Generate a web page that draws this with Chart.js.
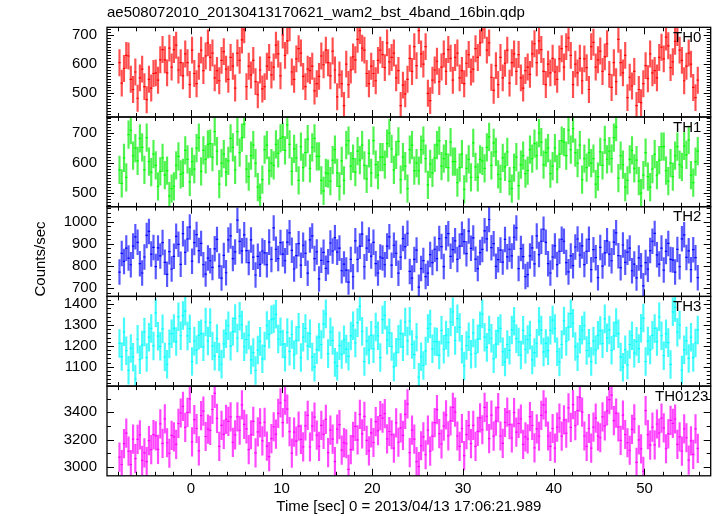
<!DOCTYPE html>
<html><head><meta charset="utf-8">
<script src="https://cdn.jsdelivr.net/npm/chart.js@4.4.1/dist/chart.umd.min.js"></script>
<style>html,body{margin:0;padding:0;background:#fff;}#wrap{width:717px;height:516px;position:relative;}</style>
</head><body><div id="wrap"><canvas id="c" width="717" height="516"></canvas></div>
<script>
const TITLE = "ae508072010_20130413170621_wam2_bst_4band_16bin.qdp";
const X_LABEL = "Time [sec] 0 = 2013/04/13 17:06:21.989";
const Y_LABEL = "Counts/sec";
const PANEL_NAMES = ["TH0", "TH1", "TH2", "TH3", "TH0123"];
const T_START = -7.875, BIN = 0.25;
const X_TICKS = [0, 10, 20, 30, 40, 50];
const Y_TICKS = [[500, 600, 700], [500, 600, 700], [700, 800, 900, 1000], [1100, 1200, 1300, 1400], [3000, 3200, 3400]];
const ERRORS = [45, 46, 56, 67, 105];

const TH0 = [
605,535,585,630, 628,548,513,573, 483,553,583,523, 478,548,518,568,
570,545,615,650, 615,570,655,590, 650,665,580,605, 560,635,605,530,
648,568,533,593, 648,578,628,673, 623,638,553,578, 543,613,643,583,
548,623,593,518, 638,613,683,718, 523,593,563,613, 540,495,580,515,
523,593,623,563, 590,665,635,560, 700,630,680,725, 573,548,618,653,
638,558,523,583, 578,593,508,533, 558,628,598,648, 605,560,645,580,
488,563,533,458, 600,530,580,625, 615,685,715,655, 648,568,533,593,
568,543,613,648, 633,588,673,608, 623,638,553,578, 458,528,498,548,
620,575,660,595, 715,635,600,660, 500,475,545,580, 610,540,590,635,
575,650,620,545, 623,638,553,578, 533,603,633,573, 583,653,623,673,
718,733,648,673, 555,510,595,530, 623,553,603,648, 535,605,635,575,
633,553,518,578, 590,565,635,670, 605,680,650,575, 530,600,570,620,
573,548,618,653, 590,660,690,630, 530,600,570,620, 543,618,588,513,
660,675,590,615, 645,575,625,670, 565,520,605,540, 685,605,570,630,
485,555,525,575, 458,513,468,533, 595,550,635,570, 578,553,623,658,
618,693,663,588, 608,678,708,648, 613,543,593,638, 600,520,485,545];
const TH1 = [
578,533,618,553, 695,710,625,650, 608,683,653,578, 685,605,570,630,
593,523,573,618, 560,575,490,515, 523,593,623,563, 568,643,613,538,
605,580,650,685, 573,643,613,663, 665,620,705,640, 530,600,630,570,
608,683,653,578, 705,635,685,730, 580,555,625,660, 600,520,485,545,
645,660,575,600, 593,663,633,683, 688,643,728,663, 573,648,618,543,
655,585,635,680, 583,653,683,623, 623,543,508,568, 565,540,610,645,
568,523,608,543, 660,675,590,615, 570,640,610,660, 593,548,633,568,
675,595,560,620, 620,595,665,700, 648,578,628,673, 545,620,590,515,
645,660,575,600, 575,645,675,615, 528,598,568,618, 660,675,590,615,
630,585,670,605, 605,535,585,630, 513,583,613,553, 668,588,553,613,
608,583,653,688, 593,668,638,563, 548,618,588,638, 540,515,585,620,
525,595,625,565, 575,645,615,665, 625,700,670,595, 635,650,565,590,
650,580,630,675, 670,625,710,645, 715,635,600,660, 545,615,585,635,
600,615,530,555, 638,593,678,613, 640,615,685,720, 550,625,595,520,
543,613,643,583, 610,540,500,560, 635,555,520,580, 630,560,610,655,
655,575,540,600, 555,625,655,595, 588,658,628,678, 560,535,605,640];
const TH2 = [
773,857,821,881, 836,806,890,932, 907,811,769,841, 938,956,854,884,
798,882,846,906, 817,763,865,787, 844,934,898,808, 946,862,922,976,
822,906,942,870, 902,806,764,836, 824,794,878,920, 800,746,848,770,
918,936,834,864, 1007,911,869,941, 870,816,918,840, 760,844,808,868,
860,806,908,830, 972,876,834,906, 854,824,908,950, 871,787,847,901,
804,894,858,768, 918,936,834,864, 742,826,862,790, 820,904,868,928,
863,881,779,809, 782,728,830,752, 914,830,890,944, 797,881,917,845,
907,811,769,841, 836,806,890,932, 804,894,858,768, 840,924,888,948,
776,746,830,872, 705,789,825,753, 768,852,816,876, 834,924,888,798,
928,946,844,874, 914,830,890,944, 910,856,958,880, 927,831,789,861,
875,959,923,1010, 883,901,799,829, 872,818,920,842, 876,846,930,972,
789,879,843,753, 762,846,882,810, 936,852,912,966, 907,811,769,841,
891,807,867,921, 912,816,774,846, 802,886,922,850, 891,807,867,921,
784,874,838,748, 884,800,860,914, 854,824,908,950, 847,793,895,817,
863,881,779,809, 747,837,801,711, 816,786,870,912, 947,851,809,881,
782,866,902,830, 827,773,875,797, 923,941,839,869, 784,874,838,748];
const TH3 = [
1212,1149,1268,1177, 1083,1188,1146,1041, 1232,1134,1204,1267, 1144,1242,1284,1200,
1359,1247,1198,1282, 1147,1112,1210,1259, 1284,1221,1340,1249, 1346,1367,1248,1283,
1125,1223,1181,1251, 1259,1196,1315,1224, 1312,1200,1151,1235, 1147,1112,1210,1259,
1297,1199,1269,1332, 1238,1343,1301,1196, 1231,1252,1133,1168, 1082,1180,1222,1138,
1200,1298,1256,1326, 1331,1352,1233,1268, 1209,1146,1265,1174, 1255,1157,1227,1290,
1144,1242,1284,1200, 1259,1147,1098,1182, 1242,1207,1305,1354, 1163,1268,1226,1121,
1103,1201,1159,1229, 1185,1150,1248,1297, 1214,1312,1390,1270, 1125,1223,1181,1251,
1186,1291,1249,1144, 1326,1347,1228,1263, 1197,1099,1169,1232, 1259,1196,1315,1224,
1319,1207,1158,1242, 1050,1148,1106,1176, 1284,1305,1186,1221, 1219,1156,1275,1184,
1252,1217,1315,1364, 1226,1331,1289,1184, 1104,1202,1244,1160, 1262,1164,1234,1297,
1354,1242,1193,1277, 1237,1139,1209,1272, 1284,1172,1123,1207, 1179,1277,1319,1235,
1219,1156,1275,1184, 1231,1252,1133,1168, 1213,1318,1276,1171, 1212,1177,1275,1324,
1284,1172,1123,1207, 1320,1222,1292,1355, 1309,1197,1148,1232, 1276,1297,1178,1213,
1125,1223,1181,1251, 1274,1211,1330,1239, 1277,1179,1249,1312, 1259,1147,1098,1182,
1109,1207,1249,1165, 1222,1187,1285,1334, 1125,1223,1181,1251, 1284,1221,1340,1249,
1153,1258,1216,1111, 1364,1385,1266,1301, 1084,1182,1224,1140, 1242,1144,1214,1277];
const TH0123 = [
3071,3016,3170,3247, 3115,3016,3203,3060, 3201,3234,3047,3102, 3038,3192,3126,3236,
3227,3128,3315,3172, 3352,3176,3099,3231, 3219,3164,3318,3395, 3444,3290,3400,3499,
3182,3347,3281,3116, 3376,3409,3222,3277, 3267,3421,3540,3355, 3150,3304,3238,3348,
3333,3366,3179,3234, 3367,3268,3455,3312, 3279,3125,3235,3334, 3102,3256,3322,3190,
3327,3151,3074,3206, 3294,3239,3393,3470, 3324,3489,3423,3258, 3100,3254,3188,3298,
3201,3146,3300,3377, 3145,3299,3365,3233, 3150,3304,3238,3348, 3104,3269,3203,3038,
3276,3309,3122,3177, 3169,2980,3125,3224, 3297,3198,3385,3242, 3370,3194,3117,3249,
3178,3332,3266,3376, 3358,3391,3204,3259, 3235,3136,3323,3180, 3286,3231,3385,3462,
3104,3269,3203,3038, 3000,3154,3220,3088, 3269,3115,3225,3324, 3420,3244,3167,3299,
3381,3227,3337,3436, 3402,3226,3149,3281, 3082,3236,3302,3170, 3304,3150,3260,3359,
3272,3437,3371,3206, 3379,3225,3335,3434, 3226,3171,3325,3402, 3310,3211,3398,3255,
3318,3351,3164,3219, 3204,3369,3303,3138, 3279,3224,3378,3455, 3402,3226,3149,3281,
3137,3291,3357,3225, 3345,3246,3433,3290, 3456,3302,3412,3511, 3402,3226,3149,3281,
3137,3291,3357,3225, 3213,3367,3301,3411, 3493,3526,3339,3394, 3292,3193,3380,3237,
3176,3121,3275,3352, 3032,3197,3131,2966, 3412,3236,3159,3291, 3160,3314,3248,3358,
3286,3132,3242,3341, 3318,3351,3164,3219, 3114,3279,3213,3048, 3190,3091,3278,3135];

const SERIES = [TH0, TH1, TH2, TH3, TH0123];
const COLORS = ["#ff0000", "#00ff00", "#0000ff", "#00ffff", "#ff00ff"];
const BAR_COLORS = ["rgba(255,30,30,0.78)", "rgba(30,240,30,0.78)", "rgba(40,40,255,0.78)", "rgba(20,250,250,0.78)", "rgba(255,20,255,0.78)"];
const RANGES = [[418.7, 726.4], [455, 754], [663.5, 1067.6], [1007, 1438], [2933, 3593]];
const MINOR = [10, 10, 20, 20, 100];
const MAJOR = [100, 100, 100, 100, 200];
const FONT = "Liberation Sans, Arial, Helvetica, sans-serif";

const datasets = [];
const scales = {
  x: {
    type: 'linear', position: 'bottom', min: -9.25, max: 57.3, offset: false,
    grid: {display: false, drawTicks: false, offset: false}, border: {display: false},
    ticks: {font: {family: FONT, size: 15}, color: '#000', padding: 4, autoSkip: false, maxRotation: 0,
      callback: v => String(v)},
    afterBuildTicks: s => { s.ticks = X_TICKS.map(v => ({value: v})); },
    afterFit: s => { s.height = 40.2; }
  }
};
SERIES.forEach((vals, p) => {
  const id = 'y' + p;
  scales[id] = {
    type: 'linear', position: 'left', stack: 'panels', stackWeight: 1, weight: 10 - p,
    min: RANGES[p][0], max: RANGES[p][1],
    grid: {display: false, drawTicks: false}, border: {display: false},
    ticks: {font: {family: FONT, size: 15}, color: '#000', padding: 10, autoSkip: false,
      callback: v => String(v)},
    afterBuildTicks: s => { s.ticks = Y_TICKS[p].map(v => ({value: v})); },
    afterFit: s => { s.width = 70; }
  };
  const bars = vals.map((v, i) => ({x: T_START + i * BIN, y: [v - ERRORS[p], v + ERRORS[p]]}));
  const pts = vals.map((v, i) => ({x: T_START + i * BIN, y: v}));
  datasets.push({type: 'bar', data: bars, xAxisID: 'x', yAxisID: id, backgroundColor: BAR_COLORS[p],
    borderWidth: 0, barThickness: 1.5, grouped: false, order: 2});
  datasets.push({type: 'line', data: pts, xAxisID: 'x', yAxisID: id, showLine: false,
    pointStyle: 'line', pointRadius: 1.2, pointBorderWidth: 1.2, pointBorderColor: COLORS[p],
    pointBackgroundColor: COLORS[p], pointHoverRadius: 0, order: 1});
});

const framePlugin = {
  id: 'frames',
  afterDatasetsDraw(chart) {
    const ctx = chart.ctx, ca = chart.chartArea, xs = chart.scales.x;
    ctx.save();
    ctx.strokeStyle = '#000';
    for (let p = 0; p < 5; p++) {
      const ys = chart.scales['y' + p];
      const top = ys.top, bot = ys.bottom;
      ctx.lineWidth = 1;
      const start = Math.ceil(ys.min / MINOR[p]) * MINOR[p];
      for (let v = start; v <= ys.max; v += MINOR[p]) {
        const py = Math.round(ys.getPixelForValue(v)) + 0.5;
        const len = (v % MAJOR[p] === 0) ? 7 : 4;
        ctx.beginPath();
        ctx.moveTo(ca.left, py); ctx.lineTo(ca.left + len, py);
        ctx.moveTo(ca.right, py); ctx.lineTo(ca.right - len, py);
        ctx.stroke();
      }
      for (let t = -8; t <= 56; t += 2) {
        const px = Math.round(xs.getPixelForValue(t)) + 0.5;
        const len = (t % 10 === 0) ? 7 : 4;
        ctx.beginPath();
        ctx.moveTo(px, top); ctx.lineTo(px, top + len);
        ctx.moveTo(px, bot); ctx.lineTo(px, bot - len);
        ctx.stroke();
      }
      ctx.lineWidth = 1.3;
      ctx.strokeRect(ca.left, top, ca.right - ca.left, bot - top);
      ctx.fillStyle = '#000';
      ctx.font = '15px ' + FONT;
      ctx.textBaseline = 'middle';
      ctx.textAlign = 'left';
      ctx.fillText(PANEL_NAMES[p], p === 4 ? 655 : 673, top + 10.5);
    }
    ctx.restore();
  },
  afterDraw(chart) {
    const ctx = chart.ctx, ca = chart.chartArea;
    ctx.save();
    ctx.fillStyle = '#000';
    ctx.font = '15px ' + FONT;
    ctx.textBaseline = 'middle';
    ctx.textAlign = 'left';
    ctx.fillText(TITLE, ca.left, 12.5);
    ctx.textAlign = 'center';
    ctx.fillText(X_LABEL, (ca.left + ca.right) / 2, 507);
    ctx.translate(41, 259);
    ctx.rotate(-Math.PI / 2);
    ctx.fillText(Y_LABEL, 0, 0);
    ctx.restore();
  }
};

new Chart(document.getElementById('c'), {
  data: {datasets},
  options: {
    responsive: false, animation: false, devicePixelRatio: 1,
    layout: {padding: {left: 37, top: 27.3, right: 6.3, bottom: 0}},
    plugins: {legend: {display: false}, tooltip: {enabled: false}, title: {display: false}},
    events: [],
    scales
  },
  plugins: [framePlugin]
});
</script></body></html>
